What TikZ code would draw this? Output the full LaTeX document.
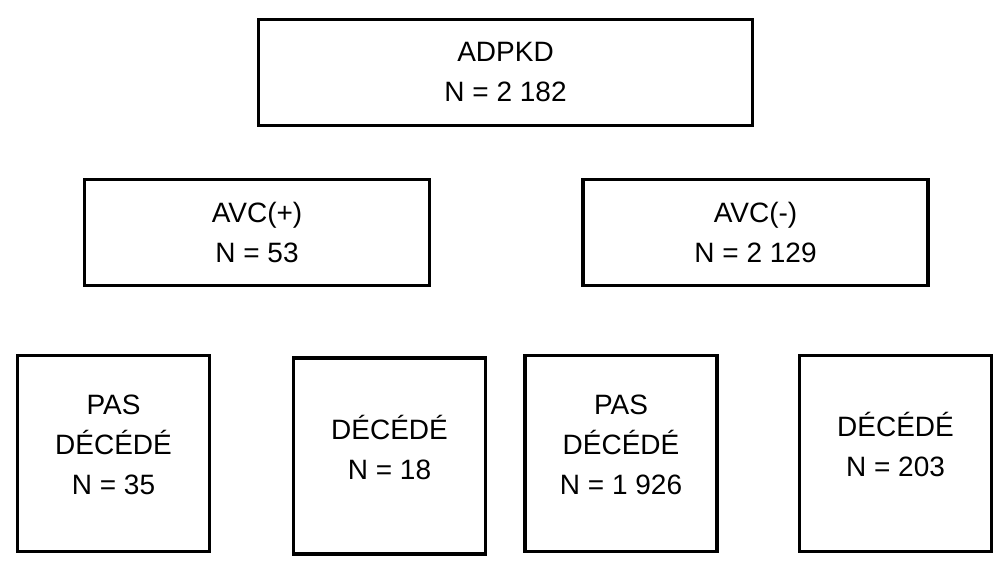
\documentclass[tikz,border=0pt]{standalone}
\usepackage{fontspec}
\setmainfont{Liberation Sans}

\begin{document}
\begin{tikzpicture} [x=1pt, y=-1pt]
\tikzstyle{every node}=[draw, line width=3.4pt, shape=rectangle, align=center,
  font=\fontsize{28}{40}\selectfont];
\tikzstyle{wide}=[minimum width=345pt, minimum height=106pt];
\tikzstyle{leaf}=[minimum width=192pt, minimum height=196pt, text depth=18pt];
\useasboundingbox (0,0) rectangle (1004,568);
\node [minimum width=494pt, minimum height=106pt] (a0) at (505.5,72.5) {ADPKD\\N = 2 182};
\node [wide] (b1) at (257,232.5) {AVC(+)\\N = 53}; % level 1
\node [wide] (b2) at (755.5,232.5) {AVC(-)\\N = 2 129};
\node [leaf] (c1) at (113.5,453.5) {PAS\\DÉCÉDÉ\\N = 35}; % level 2
\node [leaf] (c2) at (389.5,456) {DÉCÉDÉ\\N = 18};
\node [leaf] (c3) at (621,453.5) {PAS\\DÉCÉDÉ\\N = 1 926};
\node [leaf] (c4) at (895.5,453.5) {DÉCÉDÉ\\N = 203};
\end{tikzpicture}
\end{document}
